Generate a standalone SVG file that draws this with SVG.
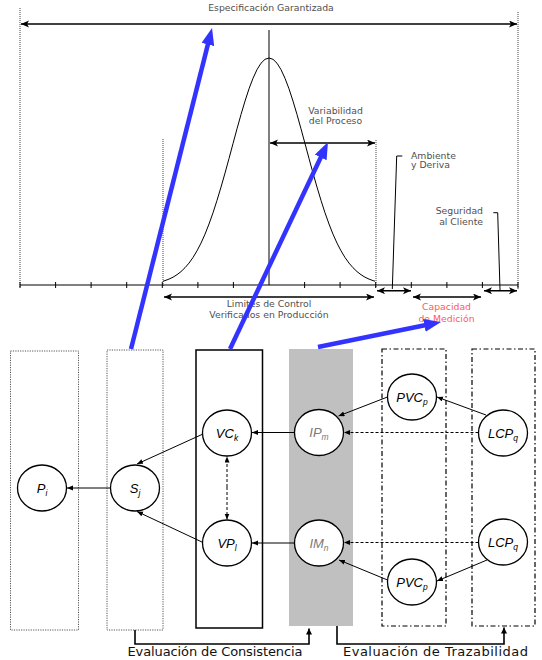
<svg xmlns="http://www.w3.org/2000/svg" width="542" height="660" viewBox="0 0 542 660">
<style>
.ax{stroke:#000;stroke-width:1;fill:none}
.dot{stroke:#444;stroke-width:1;stroke-dasharray:1 1;fill:none}
.dbl{stroke:#000;stroke-width:1.5;fill:none;marker-start:url(#ch);marker-end:url(#ch)}
.lbl{font-family:"DejaVu Sans",sans-serif;font-size:9.3px;fill:#505050}
.red{fill:#ff5a5a}
.blue{stroke:#3333ff;stroke-width:4.5;fill:none;marker-end:url(#bh)}
.box-dot{stroke:#555;stroke-width:1;stroke-dasharray:1.2 1.2;fill:none}
.box-solid{stroke:#000;stroke-width:1.5;fill:none}
.box-dd{stroke:#000;stroke-width:1.2;stroke-dasharray:5 2.5 1.5 2.5;fill:none}
.nd{fill:#fff;stroke:#000;stroke-width:1.3}
.nt{font-family:"Liberation Sans",Arial,sans-serif;font-style:italic;font-size:13px;fill:#000}
.gt{fill:#7a7a7a}
.sub{font-size:8.5px}
.cn{stroke:#000;stroke-width:1;fill:none;marker-end:url(#sa)}
.cnd{stroke:#000;stroke-width:1;stroke-dasharray:3 2;fill:none;marker-end:url(#sa)}
.br{stroke:#000;stroke-width:1.6;fill:none;marker-end:url(#ua)}
.ev{font-family:"DejaVu Sans",sans-serif;font-size:13px;fill:#111}
</style>
<defs>
<marker id="ch" markerUnits="userSpaceOnUse" markerWidth="9" markerHeight="8" refX="8" refY="3.5" orient="auto-start-reverse"><path d="M0,0 L8,3.5 L0,7 L2,3.5 z" fill="#000"/></marker>
<marker id="bh" markerUnits="userSpaceOnUse" markerWidth="18" markerHeight="14" refX="3" refY="6.5" orient="auto"><path d="M0,0 L17,6.5 L0,13 z" fill="#3333ff"/></marker>
<marker id="sa" markerUnits="userSpaceOnUse" markerWidth="7" markerHeight="6" refX="6" refY="2.5" orient="auto"><path d="M0,0 L6,2.5 L0,5 z" fill="#000"/></marker>
<marker id="ua" markerUnits="userSpaceOnUse" markerWidth="8" markerHeight="7" refX="6" refY="3" orient="auto"><path d="M0,0 L6,3 L0,6 z" fill="#000"/></marker>
</defs>

<g id="chart">
<line class="dot" x1="20" y1="8" x2="20" y2="287"/>
<line class="dot" x1="518" y1="12" x2="518" y2="290"/>
<line class="dot" x1="163" y1="139" x2="163" y2="287"/>
<line class="dot" x1="376" y1="140" x2="376" y2="287"/>
<line class="dbl" x1="21" y1="24" x2="517" y2="24"/>
<text class="lbl" x="271" y="11" text-anchor="middle">Especificación Garantizada</text>
<line class="ax" x1="269" y1="30" x2="269" y2="285"/>
<polyline class="ax" points="163,281.2 165,280.6 169,279.1 173,277.2 177,274.7 181,271.6 185,267.7 189,263.1 193,257.5 197,250.8 201,243.1 205,234.2 209,224 213,212.8 217,200.4 221,187.1 225,173.1 229,158.5 233,143.6 237,128.8 241,114.5 245,101.1 249,88.8 253,78.3 257,69.6 261,63.2 265,59.3 269,58 273,59.3 277,63.2 281,69.6 285,78.3 289,88.8 293,101.1 297,114.5 301,128.8 305,143.6 309,158.5 313,173.1 317,187.1 321,200.4 325,212.8 329,224 333,234.2 337,243.1 341,250.8 345,257.5 349,263.1 353,267.7 357,271.6 361,274.7 365,277.2 369,279.1 373,280.6 375,281.2"/>
<line class="ax" x1="20" y1="285" x2="518" y2="285"/>
<path class="ax" d="M20,282V288M55.6,282V288M91.1,282V288M126.7,282V288M162.3,282V288M197.9,282V288M233.4,282V288M304.6,282V288M340.1,282V288M375.7,282V288M411.3,282V288M446.9,282V288M482.4,282V288M518,282V288"/>
<line class="dbl" x1="270" y1="143" x2="375" y2="143"/>
<text class="lbl" x="335.5" y="114.3" text-anchor="middle">Variabilidad</text>
<text class="lbl" x="335.5" y="124.3" text-anchor="middle">del Proceso</text>
<line class="dbl" x1="164" y1="297" x2="374" y2="297"/>
<text class="lbl" x="269" y="306.6" text-anchor="middle">Limites de Control</text>
<text class="lbl" x="269" y="317.6" text-anchor="middle">Verificados en Producción</text>
<line class="dbl" x1="377" y1="290.7" x2="411" y2="290.7"/>
<line class="dbl" x1="484" y1="290.7" x2="517" y2="290.7"/>
<line class="dbl" x1="413" y1="297" x2="481" y2="297"/>
<text class="lbl red" x="446.5" y="310.4" text-anchor="middle">Capacidad</text>
<text class="lbl red" x="446.5" y="321.8" text-anchor="middle">de Medición</text>
<polyline class="ax" points="392.3,289 396.7,156 402.3,156"/>
<text class="lbl" x="411" y="158.5">Ambiente</text>
<text class="lbl" x="411" y="168">y Deriva</text>
<polyline class="ax" points="500,290 497.7,212.7 493.3,212.7"/>
<text class="lbl" x="483" y="214" text-anchor="end">Seguridad</text>
<text class="lbl" x="483" y="224.5" text-anchor="end">al Cliente</text>
</g>

<g id="columns">
<rect class="box-dot" x="10.5" y="351" width="68" height="279"/>
<rect class="box-dot" x="107" y="350" width="56" height="280"/>
<rect class="box-solid" x="196" y="350" width="66.5" height="278"/>
<rect x="289" y="349" width="64" height="277" fill="#c0c0c0"/>
<rect class="box-dd" x="382" y="349" width="64" height="277"/>
<rect class="box-dd" x="472" y="349" width="63" height="277"/>
</g>

<g id="connectors">
<line class="cn" x1="110" y1="488" x2="67" y2="488"/>
<line class="cn" x1="203" y1="434" x2="137" y2="464"/>
<line class="cn" x1="203" y1="542.5" x2="137" y2="511.5"/>
<line class="cnd" x1="227" y1="487" x2="227" y2="456.5" style="marker-start:none"/>
<line class="cnd" x1="227" y1="487" x2="227" y2="519.5"/>
<line class="cn" x1="294.5" y1="432.5" x2="252" y2="432.5"/>
<line class="cn" x1="294.5" y1="543" x2="252" y2="543"/>
<line class="cnd" x1="478.5" y1="432.5" x2="344" y2="432.5"/>
<line class="cnd" x1="478.5" y1="542.5" x2="344" y2="542.5"/>
<line class="cn" x1="387.5" y1="397" x2="338.5" y2="416"/>
<line class="cn" x1="486" y1="415" x2="437" y2="397"/>
<line class="cn" x1="387.5" y1="580" x2="339" y2="560"/>
<line class="cn" x1="487" y1="560" x2="437" y2="581"/>
<polyline class="br" points="135,630 135,644 309,644 309,628.5"/>
<polyline class="br" points="337,626 337,644 504,644 504,627.5"/>
<line class="blue" x1="131" y1="349" x2="208.6" y2="41.6"/>
<line class="blue" x1="230" y1="349" x2="322" y2="154.7"/>
<line class="blue" x1="318" y1="347" x2="427.3" y2="324.8"/>
</g>

<g id="n-P"><ellipse class="nd" cx="42" cy="488" rx="24.5" ry="23"/><text class="nt" x="42" y="492.5" text-anchor="middle">P<tspan class="sub" dy="3">i</tspan></text></g>
<g id="n-S"><ellipse class="nd" cx="135" cy="488" rx="24.5" ry="23"/><text class="nt" x="135" y="492.5" text-anchor="middle">S<tspan class="sub" dy="3">j</tspan></text></g>
<g id="n-VC"><ellipse class="nd" cx="227" cy="433" rx="24.5" ry="23"/><text class="nt" x="227" y="437.5" text-anchor="middle">VC<tspan class="sub" dy="3">k</tspan></text></g>
<g id="n-VP"><ellipse class="nd" cx="227" cy="543" rx="24.5" ry="23"/><text class="nt" x="227" y="547.5" text-anchor="middle">VP<tspan class="sub" dy="3">l</tspan></text></g>
<g id="n-IP"><ellipse class="nd" cx="319" cy="432.5" rx="24.5" ry="23"/><text class="nt gt" x="319" y="437" text-anchor="middle">IP<tspan class="sub" dy="3">m</tspan></text></g>
<g id="n-IM"><ellipse class="nd" cx="319" cy="543" rx="24.5" ry="23"/><text class="nt gt" x="319" y="547.5" text-anchor="middle">IM<tspan class="sub" dy="3">n</tspan></text></g>
<g id="n-PVC1"><ellipse class="nd" cx="412" cy="397" rx="24.5" ry="23"/><text class="nt" x="412" y="401.5" text-anchor="middle">PVC<tspan class="sub" dy="3">p</tspan></text></g>
<g id="n-PVC2"><ellipse class="nd" cx="412" cy="582" rx="24.5" ry="23"/><text class="nt" x="412" y="586.5" text-anchor="middle">PVC<tspan class="sub" dy="3">p</tspan></text></g>
<g id="n-LCP1"><ellipse class="nd" cx="503" cy="433" rx="24.5" ry="23"/><text class="nt" x="503" y="437.5" text-anchor="middle">LCP<tspan class="sub" dy="3">q</tspan></text></g>
<g id="n-LCP2"><ellipse class="nd" cx="503" cy="542" rx="24.5" ry="23"/><text class="nt" x="503" y="546.5" text-anchor="middle">LCP<tspan class="sub" dy="3">q</tspan></text></g>

<g id="labels">
<text class="ev" x="215" y="656" text-anchor="middle" textLength="175">Evaluación de Consistencia</text>
<text class="ev" x="435.5" y="656" text-anchor="middle" textLength="185">Evaluación de Trazabilidad</text>
</g>
</svg>
